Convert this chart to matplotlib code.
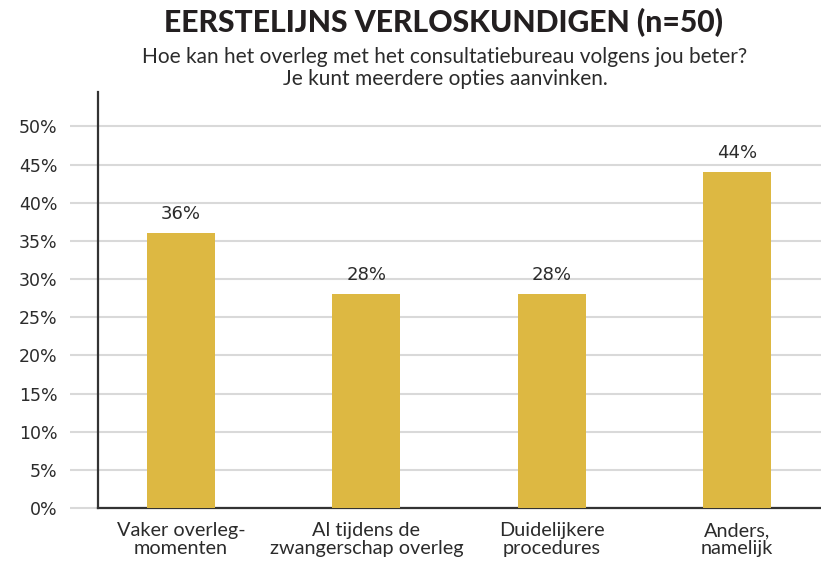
import numpy as np
import matplotlib.pyplot as plt
from matplotlib.ticker import MultipleLocator, FuncFormatter

# gegevens
categories = ["Vaker overleg-\nmomenten", "Al tijdens de\nzwangerschap overleg",
              "Duidelijkere\nprocedures", "Anders,\nnamelijk"]
percentages = [36, 28, 28, 44]
value_labels = ["36%", "28%", "28%", "44%"]

title = "EERSTELIJNS VERLOSKUNDIGEN (n=50)"
subtitle = "Hoe kan het overleg met het consultatiebureau volgens jou beter?\nJe kunt meerdere opties aanvinken."

bar_color = "#DDB842"
text_color = "#2b2b2b"
grid_color = "#d9d9d9"

fig = plt.figure(figsize=(8.21, 5.68), dpi=100)
ax = fig.add_axes([98 / 821, 1 - 508 / 568, 1 - 98 / 821, (508 - 92) / 568])

x = np.arange(len(categories))
bars = ax.bar(x, percentages, width=0.367, color=bar_color, zorder=3)

for b, lab in zip(bars, value_labels):
    ax.annotate(lab, (b.get_x() + b.get_width() / 2, b.get_height()),
                xytext=(0, 10), textcoords="offset pixels", ha="center", va="bottom",
                fontsize=13, color=text_color, family="DejaVu Sans")

ax.set_xlim(-0.448, 3.453)
ax.set_ylim(0, 54.5)
ax.yaxis.set_major_locator(MultipleLocator(5))
ax.yaxis.set_major_formatter(FuncFormatter(lambda v, p: f"{v:.0f}%"))
ax.grid(axis="y", color=grid_color, linewidth=1.5, zorder=0)
ax.tick_params(axis="y", length=20, width=1.5, color=grid_color, pad=9,
               labelsize=12.5, labelcolor=text_color)
for t in ax.get_yticklabels():
    t.set_family("DejaVu Sans")

ax.set_xticks(x)
ax.set_xticklabels(categories, fontsize=14.3, color=text_color, family="Lato",
                   linespacing=1.05)
ax.tick_params(axis="x", length=0, pad=10)

for s in ["top", "right"]:
    ax.spines[s].set_visible(False)
for s in ["left", "bottom"]:
    ax.spines[s].set_color("#333333")
    ax.spines[s].set_linewidth(1.6)

fig.text(443 / 821, 1 - 23 / 568, title, ha="center", va="center", fontsize=21.7,
         fontweight="black", family="Lato", color="#231f20")
fig.text(445 / 821, 1 - 68 / 568, subtitle, ha="center", va="center", fontsize=15,
         family="Lato", color=text_color, linespacing=1.18)

fig.savefig("out.png", dpi=100)
